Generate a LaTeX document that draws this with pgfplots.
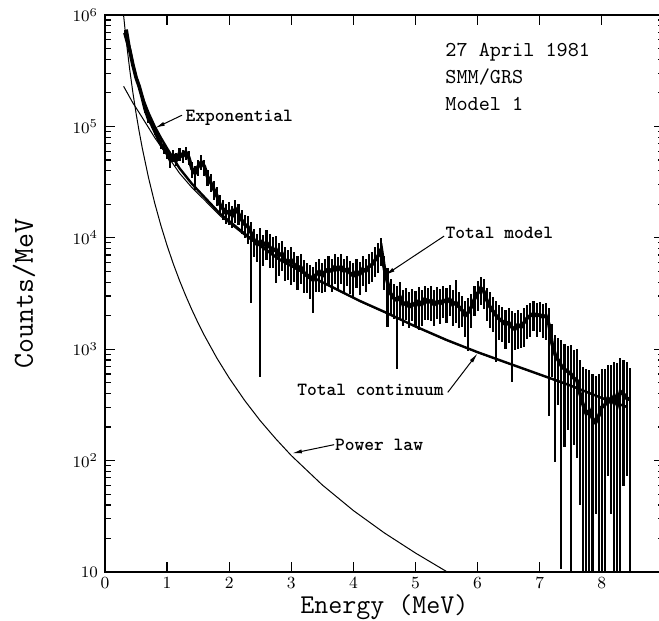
\documentclass[border=0pt]{standalone}
\usepackage{pgfplots}
\pgfplotsset{compat=1.18}
\usetikzlibrary{arrows.meta}
\pgfplotstableread{
x y ep em
0.32 692000 0.05 0.05
0.35 603000 0.05 0.05
0.40 479000 0.05 0.05
0.45 355000 0.06 0.06
0.50 275000 0.06 0.06
0.55 229000 0.06 0.06
0.60 182000 0.07 0.07
0.65 141000 0.07 0.07
0.70 117000 0.08 0.08
0.75 105000 0.08 0.08
0.80 91200 0.08 0.08
0.85 79400 0.09 0.09
0.90 69200 0.10 0.10
0.95 63100 0.10 0.10
1.00 57500 0.12 0.12
1.05 50100 0.12 0.15
1.10 55000 0.12 0.12
1.15 50100 0.14 0.12
1.20 57500 0.12 0.15
1.25 53700 0.14 0.12
1.30 58900 0.12 0.15
1.35 52500 0.14 0.15
1.40 41700 0.15 0.18
1.45 38000 0.15 0.30
1.50 43700 0.15 0.18
1.55 47900 0.15 0.15
1.60 43700 0.15 0.18
1.65 35500 0.15 0.18
1.70 31600 0.18 0.18
1.75 27500 0.18 0.20
1.80 24000 0.18 0.20
1.85 20000 0.20 0.20
1.90 18200 0.20 0.20
1.95 16600 0.20 0.20
2.00 17400 0.20 0.25
2.05 15800 0.22 0.22
2.10 18200 0.20 0.25
2.15 16600 0.22 0.22
2.20 14500 0.22 0.25
2.25 13200 0.22 0.25
2.30 12600 0.25 0.30
2.35 11200 0.25 0.77
2.40 9550 0.25 0.30
2.45 8710 0.25 0.30
2.50 9330 0.30 0.94
2.55 8510 0.25 0.35
2.60 9120 0.30 0.30
2.65 8320 0.30 0.35
2.70 7590 0.35 0.30
2.75 7940 0.30 0.50
2.80 6920 0.30 0.35
2.85 7240 0.30 0.30
2.90 6310 0.30 0.35
2.95 6030 0.30 0.30
3.00 6310 0.30 0.40
3.05 5750 0.30 0.30
3.10 5250 0.30 0.35
3.15 5500 0.30 0.30
3.20 4900 0.30 0.35
3.25 4570 0.30 0.30
3.30 4370 0.30 0.35
3.35 4170 0.30 0.49
3.40 4680 0.30 0.30
3.45 5010 0.30 0.35
3.50 4570 0.30 0.30
3.55 5010 0.30 0.35
3.60 5250 0.30 0.30
3.65 5010 0.30 0.35
3.70 5500 0.30 0.30
3.75 5130 0.30 0.35
3.80 5500 0.30 0.30
3.85 5010 0.30 0.35
3.90 5250 0.30 0.30
3.95 4790 0.30 0.35
4.00 4570 0.30 0.35
4.05 5010 0.30 0.30
4.10 4680 0.30 0.35
4.15 5250 0.30 0.30
4.20 5010 0.30 0.35
4.25 5500 0.30 0.30
4.30 5750 0.30 0.30
4.35 6310 0.30 0.30
4.40 6920 0.30 0.30
4.45 7940 0.25 0.30
4.50 5250 0.30 0.35
4.55 3980 0.35 0.60
4.60 3160 0.35 0.35
4.65 2880 0.35 0.35
4.70 2750 0.35 0.76
4.75 2950 0.35 0.35
4.80 2510 0.35 0.35
4.85 2630 0.35 0.30
4.90 2400 0.35 0.35
4.95 2570 0.35 0.30
5.00 2450 0.35 0.35
5.05 2690 0.35 0.45
5.10 2510 0.35 0.35
5.15 2820 0.30 0.35
5.20 2630 0.35 0.30
5.25 2750 0.35 0.35
5.30 2510 0.35 0.35
5.35 2690 0.35 0.30
5.40 2570 0.35 0.35
5.45 2750 0.35 0.30
5.50 2630 0.35 0.35
5.55 2820 0.35 0.30
5.60 2510 0.35 0.35
5.65 2630 0.60 0.35
5.70 2400 0.35 0.35
5.75 2240 0.35 0.30
5.80 2000 0.35 0.35
5.85 2140 0.35 0.55
5.90 2400 0.30 0.35
5.95 2820 0.30 0.30
6.00 3160 0.30 0.30
6.05 3550 0.25 0.30
6.10 3310 0.30 0.30
6.15 2750 0.30 0.35
6.20 2400 0.35 0.35
6.25 2190 0.35 0.35
6.30 2000 0.35 0.62
6.35 1860 0.35 0.35
6.40 1780 0.35 0.35
6.45 1660 0.35 0.40
6.50 1740 0.35 0.35
6.55 1580 0.40 0.68
6.60 1510 0.40 0.35
6.65 1660 0.35 0.40
6.70 1580 0.35 0.35
6.75 1740 0.35 0.40
6.80 1910 0.30 0.35
6.85 2000 0.30 0.35
6.90 2090 0.30 0.30
6.95 2000 0.30 0.35
7.00 2040 0.30 0.30
7.05 1950 0.30 0.35
7.10 2000 0.30 0.40
7.15 1660 0.40 0.85
7.20 1120 0.50 0.50
7.25 891 0.50 0.89
7.30 794 0.60 0.60
7.35 708 0.70 0.985
7.40 661 0.70 0.80
7.45 631 0.70 0.70
7.50 603 0.80 0.985
7.55 550 0.80 0.75
7.60 525 0.90 0.80
7.65 398 1.00 0.90
7.70 316 1.20 0.985
7.75 263 1.50 0.985
7.80 282 1.30 0.985
7.85 240 1.50 0.985
7.90 219 1.60 0.85
7.95 251 1.40 0.985
8.00 302 1.20 0.985
8.05 316 1.10 0.985
8.10 363 1.00 0.80
8.15 331 1.20 0.90
8.20 380 1.00 0.985
8.25 316 1.40 0.985
8.30 417 1.00 0.985
8.35 398 1.00 0.85
8.40 363 1.10 0.80
8.45 355 0.90 0.985
}\spectrum
\pgfplotstableread{
x y
0.29 1131000
0.30 988000
0.32 767000
0.35 538000
0.40 317500
0.45 199500
0.50 131500
0.55 90200
0.60 64000
0.70 34800
0.80 20550
0.90 12910
1.00 8510
1.10 5840
1.20 4140
1.30 3020
1.40 2254
1.50 1716
1.60 1330
1.80 835
2.00 551
2.25 346
2.50 228
2.75 157
3.00 111
3.50 60.4
4.00 35.6
4.50 22.4
5.00 14.8
5.50 10.1
5.60 9.4
}\powerlaw
\pgfplotstableread{
x y
0.30 229000
0.35 204000
0.40 182000
0.45 162000
0.50 147000
0.60 120000
0.70 97700
0.80 79400
0.90 66100
1.00 55000
1.20 38000
1.40 28200
1.60 21900
1.85 15800
2.30 10000
2.80 6310
3.30 4470
3.70 3470
4.10 2690
4.50 2140
5.00 1585
5.50 1200
6.00 933
6.50 741
7.00 589
7.50 468
8.00 363
8.40 302
}\exponential
\pgfplotstableread{
x y
0.35 742000
0.40 500000
0.45 362000
0.50 278500
0.60 184000
0.70 132500
0.80 100000
0.90 79000
1.00 63500
1.20 42100
1.40 30500
1.60 23200
1.85 16500
2.30 10320
2.80 6455
3.30 4545
3.70 3518
4.10 2718
4.50 2162
5.00 1600
5.50 1210
6.00 940
6.50 746
7.00 593
7.50 471
8.00 365
8.40 304
}\continuum
\begin{document}
\begin{tikzpicture}
\begin{axis}[
  scale only axis, width=279.45pt, height=278.5pt,
  xmin=0, xmax=9, ymode=log, ymin=10, ymax=1000000,
  xtick={0,1,2,3,4,5,6,7,8,9},
  xticklabels={0,1,2,3,4,5,6,7,8,},
  ytick={10,100,1000,10000,100000,1000000},
  yticklabels={$10$,$10^{2}$,$10^{3}$,$10^{4}$,$10^{5}$,$10^{6}$},
  axis line style={line width=0.9pt},
  major tick length=5pt, minor tick length=3pt,
  every tick/.style={black, line width=0.6pt},
  xticklabel style={font=\fontsize{8.5}{9}\selectfont, yshift=1pt},
  yticklabel style={font=\fontsize{8.5}{9}\selectfont},
  xlabel={Energy (MeV)}, ylabel={Counts/MeV},
  every axis y label/.style={at={(axis description cs:-0.145,0.5)}, rotate=90, anchor=center, font=\ttfamily\fontsize{14.5}{15}\selectfont},
  every axis x label/.style={at={(axis description cs:0.5,-0.064)}, anchor=center, font=\ttfamily\fontsize{13.6}{15}\selectfont},
]
\addplot[black, line width=0.5pt] table[x=x,y=y] {\powerlaw};
\addplot[black, line width=0.5pt] table[x=x,y=y] {\exponential};
\addplot[black, line width=1.2pt] table[x=x,y=y] {\continuum};
\addplot[black, line width=1.8pt, mark=none,
  error bars/.cd, y dir=both, y explicit relative, error mark=none,
  error bar style={line width=1.05pt}]
  table[x=x, y=y, y error plus=ep, y error minus=em] {\spectrum};

\node[anchor=west, inner sep=0pt, font=\ttfamily\bfseries\fontsize{9.3}{10}\selectfont] at (axis cs:1.29,119000) {Exponential};
\draw[-{Latex[length=5pt,width=2pt]}, line width=0.5pt] (axis cs:1.24,126000) -- (axis cs:0.805,96600);

\node[anchor=west, inner sep=0pt, font=\ttfamily\bfseries\fontsize{9.3}{10}\selectfont] at (axis cs:5.48,11000) {Total model};
\draw[-{Latex[length=5pt,width=2pt]}, line width=0.5pt] (axis cs:5.46,10350) -- (axis cs:4.51,4610);

\node[anchor=west, inner sep=0pt, font=\ttfamily\bfseries\fontsize{9.3}{10}\selectfont] at (axis cs:3.09,427) {Total continuum};
\draw[-{Latex[length=5pt,width=2pt]}, line width=0.5pt] (axis cs:5.52,410) -- (axis cs:6.0,918);

\node[anchor=west, inner sep=0pt, font=\ttfamily\bfseries\fontsize{9.3}{10}\selectfont] at (axis cs:3.70,137) {Power law};
\draw[-{Latex[length=5pt,width=2pt]}, line width=0.5pt] (axis cs:3.69,139) -- (axis cs:3.01,116);

\node[anchor=north west, align=left, inner sep=0pt, font=\ttfamily\fontsize{10.6}{13.5}\selectfont] at (axis cs:5.475,560000) {27 April 1981\\SMM/GRS\\Model 1};
\end{axis}
\pgfresetboundingbox
\path[use as bounding box] (current axis.south west) ++(-52.5pt,-24.5pt) rectangle ++(329.5pt,310.5pt);
\end{tikzpicture}
\end{document}
